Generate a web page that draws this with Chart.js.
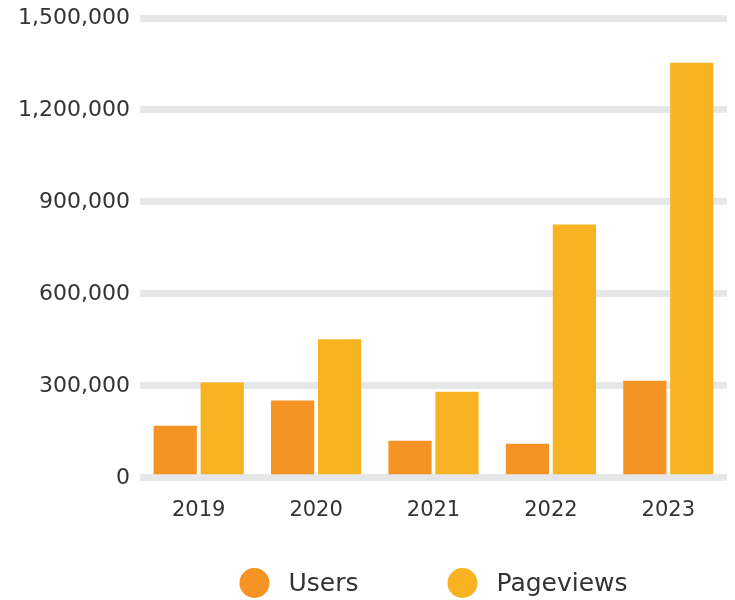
<!DOCTYPE html>
<html>
<head>
<meta charset="utf-8">
<script src="https://cdn.jsdelivr.net/npm/chart.js@4"></script>
<style>
  html,body{margin:0;padding:0;background:#fff}
  #wrap{width:735px;height:600px}
</style>
</head>
<body>
<div id="wrap"><canvas id="chart"></canvas></div>
<script>
// data
const years = ['2019','2020','2021','2022','2023'];
const users = [170000, 252000, 121000, 111000, 317000];
const pageviews = [311000, 452000, 281000, 826000, 1354000];
const yTicks = [0, 300000, 600000, 900000, 1200000, 1500000];

const ORANGE = '#F59325', YELLOW = '#F8B322', TXT = '#333333';
const FONT = 'DejaVu Sans';

// simple bottom legend with big dots, centred under the plot
const dotLegend = {
  id:'dotLegend',
  afterDraw(chart){
    const ctx = chart.ctx, area = chart.chartArea;
    const r = 15, gap = 19, between = 89, y = 583;
    ctx.save();
    ctx.font = '25px "'+FONT+'"';
    ctx.textBaseline = 'middle';
    const items = chart.data.datasets.map(d=>({label:d.label, color:d.backgroundColor, w:ctx.measureText(d.label).width}));
    let total = 0;
    items.forEach((it,i)=>{ total += r*2 + gap + it.w + (i ? between : 0); });
    let x = (area.left + area.right)/2 - total/2;
    items.forEach(it=>{
      ctx.fillStyle = it.color;
      ctx.beginPath(); ctx.arc(x + r, y, r, 0, Math.PI*2); ctx.fill();
      ctx.fillStyle = TXT;
      ctx.fillText(it.label, x + r*2 + gap, y + 1);
      x += r*2 + gap + it.w + between;
    });
    ctx.restore();
  }
};

new Chart(document.getElementById('chart'), {
  type:'bar',
  data:{
    labels: years,
    datasets:[
      { label:'Users', data:users, backgroundColor:ORANGE },
      { label:'Pageviews', data:pageviews, backgroundColor:YELLOW }
    ]
  },
  options:{
    responsive:true, maintainAspectRatio:false, animation:false,
    layout:{ padding:{ top:18, right:8, bottom:57, left:0 } },
    datasets:{ bar:{ categoryPercentage:0.8, barPercentage:0.92 } },
    plugins:{ legend:{ display:false }, tooltip:{ enabled:false } },
    scales:{
      x:{
        grid:{ display:false, drawTicks:false },
        border:{ display:false },
        ticks:{ color:TXT, font:{ family:FONT, size:21 }, padding:20 }
      },
      y:{
        min:0, max:1500000,
        afterBuildTicks: s => { s.ticks = yTicks.map(v=>({value:v})); },
        afterFit: s => { s.width = 140; s.paddingTop = 0; s.paddingBottom = 0; },
        grid:{ color:'#e6e7e8', lineWidth:7, drawTicks:false },
        border:{ display:false },
        ticks:{ color:TXT, font:{ family:FONT, size:22 }, padding:10,
          callback: v => v.toLocaleString('en-US') }
      }
    }
  },
  plugins:[dotLegend]
});
</script>
</body>
</html>
